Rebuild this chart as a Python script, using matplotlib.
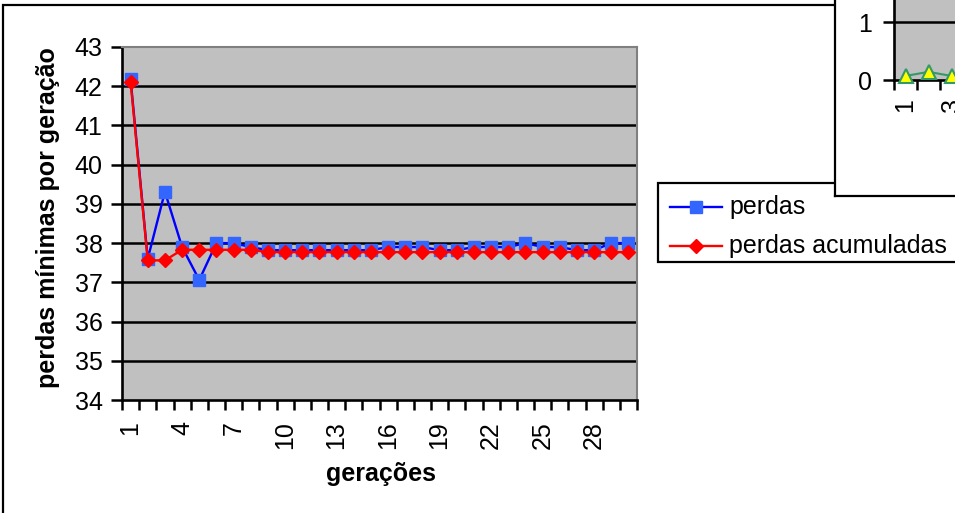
import numpy as np
import matplotlib
matplotlib.use("Agg")
import matplotlib.pyplot as plt
from matplotlib.patches import Rectangle
from matplotlib.lines import Line2D

plt.rcParams["font.family"] = ["Liberation Sans", "DejaVu Sans"]

# perdas mínimas por geração (30 gerações)
geracoes = np.arange(1, 31)
perdas = [42.18, 37.60, 39.31, 37.90, 37.06, 38.00, 38.00, 37.90, 37.82, 37.82,
          37.82, 37.82, 37.82, 37.82, 37.82, 37.90, 37.90, 37.90, 37.82, 37.82,
          37.90, 37.90, 37.90, 38.00, 37.90, 37.90, 37.82, 37.82, 38.00, 38.00]
perdas_acum = [42.11, 37.56, 37.56, 37.83, 37.83, 37.83, 37.83, 37.83, 37.77, 37.77,
               37.77, 37.77, 37.77, 37.77, 37.77, 37.77, 37.77, 37.77, 37.77, 37.77,
               37.77, 37.77, 37.77, 37.77, 37.77, 37.77, 37.77, 37.77, 37.77, 37.77]
y_ticks = list(range(34, 44))
x_labels = list(range(1, 29, 3))

# grafico vizinho (so o canto aparece)
viz_x = [1, 2, 3]
viz_y = [0.07, 0.14, 0.07]

W, H = 955, 513
FS = 18
MS_SQ = 8.8
MS_DI = 7.2


def fx(px):
    return px / W


def fy(py):
    return 1 - py / H


def box(l, t, r, b):
    return [fx(l), fy(b), fx(r) - fx(l), fy(t) - fy(b)]


fig = plt.figure(figsize=(W / 100, H / 100), dpi=100)
fig.patch.set_facecolor("white")

# moldura do grafico principal
fig.add_artist(Rectangle((fx(3), fy(600)), fx(1100) - fx(3), fy(5) - fy(600),
                         transform=fig.transFigure, fill=False, ec="black", lw=1.6, zorder=0.5))

ax = fig.add_axes(box(122, 47, 637, 400))
ax.set_facecolor("#c0c0c0")
ax.plot(geracoes, perdas, color="#0000ff", lw=1.7, marker="s", ms=MS_SQ,
        mfc="#3366ff", mec="#3366ff", zorder=3, clip_on=False)
ax.plot(geracoes, perdas_acum, color="#ff0000", lw=1.7, marker="D", ms=MS_DI,
        mfc="#ff0000", mec="#ff0000", zorder=4, clip_on=False)

ax.set_xlim(0.5, 30.5)
ax.set_ylim(34, 43)
ax.set_yticks(y_ticks)
for v in y_ticks[1:-1]:
    ax.axhline(v, color="black", lw=1.8, zorder=1)
ax.set_xticks(x_labels)
ax.set_xticklabels([str(v) for v in x_labels], rotation=90, va="top", ha="center")
ax.set_xticks(np.arange(0.5, 31, 1), minor=True)
ax.tick_params(axis="x", which="major", length=0, pad=15, labelsize=FS)
ax.tick_params(axis="x", which="minor", length=7, width=1.8, direction="out")
ax.tick_params(axis="y", length=8, width=1.8, direction="out", pad=6, labelsize=FS)
for s in ("left", "bottom"):
    ax.spines[s].set_color("black")
    ax.spines[s].set_linewidth(1.9)
for s in ("top", "right"):
    ax.spines[s].set_color("#808080")
    ax.spines[s].set_linewidth(1.5)

fig.text(fx(48), fy(218), "perdas mínimas por geração", rotation=90, fontsize=FS,
         fontweight="bold", ha="center", va="center")
fig.text(fx(381), fy(474), "gerações", fontsize=FS, fontweight="bold",
         ha="center", va="center")

# legenda
fig.add_artist(Rectangle((fx(658), fy(262)), fx(1000) - fx(658), fy(183) - fy(262),
                         transform=fig.transFigure, fc="white", ec="black", lw=1.6, zorder=5))
for py, col, mk, mc, ms, lab in [(207, "#0000ff", "s", "#3366ff", MS_SQ, "perdas"),
                                 (246, "#ff0000", "D", "#ff0000", MS_DI, "perdas acumuladas")]:
    fig.add_artist(Line2D([fx(670), fx(722)], [fy(py), fy(py)], color=col, lw=1.7,
                          transform=fig.transFigure, zorder=6))
    fig.add_artist(Line2D([fx(696)], [fy(py)], marker=mk, ms=ms, mfc=mc, mec=mc,
                          transform=fig.transFigure, zorder=6))
    fig.text(fx(729), fy(py), lab, fontsize=FS, va="center", ha="left", zorder=6)

# grafico vizinho sobreposto no canto superior direito
bg = fig.add_axes(box(835, -50, 1100, 196), zorder=10)
bg.set_facecolor("white")
bg.set_xticks([])
bg.set_yticks([])
for s in bg.spines.values():
    s.set_color("black")
    s.set_linewidth(1.6)

ax2 = fig.add_axes(box(894, -36, 894 + 23 * 6, 80), zorder=11)
ax2.set_facecolor("#c0c0c0")
ax2.plot(viz_x, viz_y, color="#339966", lw=1.5, marker="^", ms=10,
         mfc="#ffff00", mec="#339966", mew=1.5, clip_on=False, zorder=3)
ax2.set_xlim(0.5, 6.5)
ax2.set_ylim(0, 2)
ax2.set_yticks([0, 1])
ax2.axhline(1, color="black", lw=1.8)
ax2.set_xticks([1, 3])
ax2.set_xticklabels(["1", "3"], rotation=90, va="top", ha="center")
ax2.set_xticks(np.arange(0.5, 7, 1), minor=True)
ax2.tick_params(axis="x", which="major", length=0, pad=13, labelsize=FS)
ax2.tick_params(axis="x", which="minor", length=7, width=1.8, direction="out")
ax2.tick_params(axis="y", length=8, width=1.8, direction="out", pad=8, labelsize=FS)
for s in ("left", "bottom"):
    ax2.spines[s].set_color("black")
    ax2.spines[s].set_linewidth(1.9)
for s in ("top", "right"):
    ax2.spines[s].set_visible(False)

fig.savefig("out.png", dpi=100, facecolor="white")
